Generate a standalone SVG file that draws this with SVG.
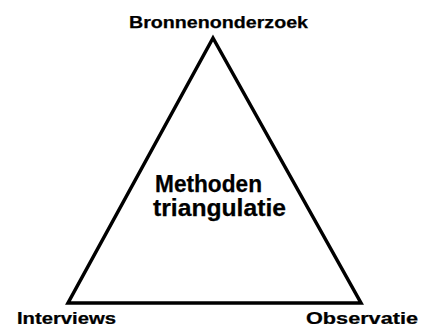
<svg xmlns="http://www.w3.org/2000/svg" width="421" height="324" viewBox="0 0 421 324">
<style>
.lbl{font-family:"Liberation Sans",Arial,sans-serif;font-weight:bold;font-size:17.2px;fill:#000;stroke:#000;stroke-width:0.25}
.ctr{font-family:"Liberation Sans",Arial,sans-serif;font-weight:bold;font-size:23px;fill:#000;stroke:#000;stroke-width:0.25}
.edge{fill:none;stroke:#000;stroke-width:3.5;stroke-linejoin:miter}
</style>
<rect width="421" height="324" fill="#fff"/>
<g id="connectors">
<path class="edge" d="M213,38 L68,303 L361,303 Z"/>
</g>
<g id="bronnenonderzoek"><text class="lbl" x="129" y="28" textLength="179" lengthAdjust="spacingAndGlyphs">Bronnenonderzoek</text></g>
<g id="interviews"><text class="lbl" x="17" y="324" textLength="99" lengthAdjust="spacingAndGlyphs">Interviews</text></g>
<g id="observatie"><text class="lbl" x="306" y="324" textLength="112" lengthAdjust="spacingAndGlyphs">Observatie</text></g>
<g id="methoden"><text class="ctr" x="155" y="192" textLength="107" lengthAdjust="spacingAndGlyphs">Methoden</text><text class="ctr" x="153" y="216" textLength="133" lengthAdjust="spacingAndGlyphs">triangulatie</text></g>
</svg>
